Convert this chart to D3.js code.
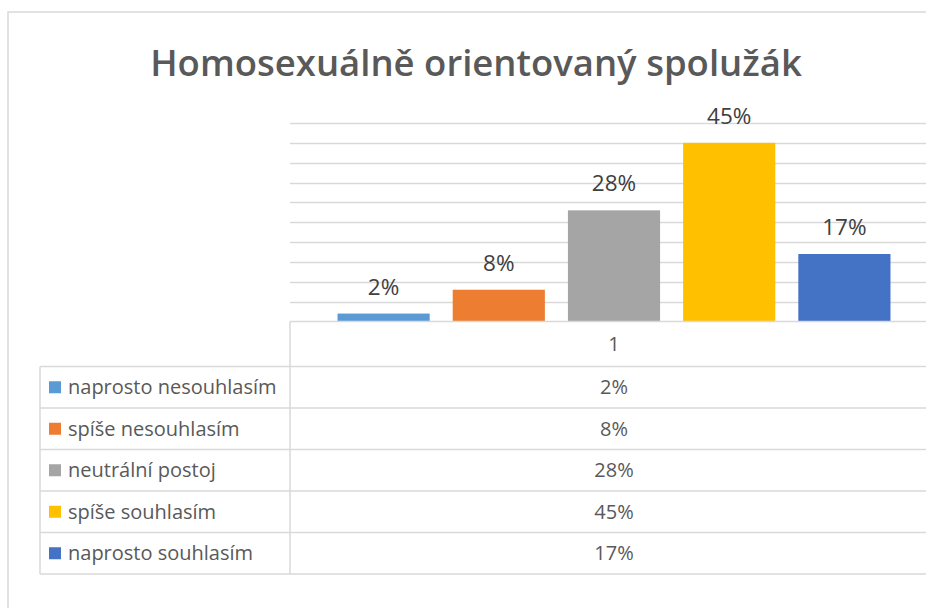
<!DOCTYPE html>
<html>
<head>
<meta charset="utf-8">
<script src="https://cdn.jsdelivr.net/npm/d3@7"></script>
<style>
  html, body { margin: 0; padding: 0; background: #fff; }
  svg text { font-family: "Open Sans", "Noto Sans", sans-serif; }
</style>
</head>
<body>
<div class="chart"></div>
<script>
  var TITLE = 'Homosexuálně orientovaný spolužák';
  var CATEGORIES = ['1'];
  var SERIES = ['naprosto nesouhlasím', 'spíše nesouhlasím', 'neutrální postoj', 'spíše souhlasím', 'naprosto souhlasím'];
  var VALUES = [0.02, 0.08, 0.28, 0.45, 0.17];
  var COLORS = ['#5B9BD5', '#ED7D31', '#A5A5A5', '#FFC000', '#4472C4'];
  var Y_TICKS = [0, 0.05, 0.1, 0.15, 0.2, 0.25, 0.3, 0.35, 0.4, 0.45, 0.5];

  var W = 926, H = 608;
  var plot = {left: 290, right: 938, top: 123, bottom: 321.5};
  var table = {left: 40, header: 366.5, bottom: 574};
  var GRID = '#D9D9D9';

  var pct = d3.format('.0%');

  var svg = d3.select('.chart').append('svg')
    .attr('width', W)
    .attr('height', H);

  // outer chart frame
  svg.append('rect')
    .attr('x', 8).attr('y', 12)
    .attr('width', 960).attr('height', 640)
    .attr('fill', '#fff')
    .attr('stroke', GRID)
    .attr('stroke-width', 1.5);

  svg.append('text')
    .attr('x', 476)
    .attr('y', 76)
    .attr('text-anchor', 'middle')
    .style('font-size', '36.5px')
    .style('font-weight', 600)
    .style('fill', '#595959')
    .text(TITLE);

  var x0 = d3.scaleBand().domain(CATEGORIES).range([plot.left, plot.right]);
  var x1 = d3.scaleBand().domain(SERIES)
    .range([x0('1'), x0('1') + x0.bandwidth()])
    .paddingInner(0.2)
    .paddingOuter(0.4125);
  var y = d3.scaleLinear().domain([0, 0.5]).range([plot.bottom, plot.top]);
  var color = d3.scaleOrdinal().domain(SERIES).range(COLORS);

  // gridlines
  svg.append('g')
    .selectAll('line')
    .data(Y_TICKS.slice(1))
    .enter().append('line')
    .attr('x1', plot.left).attr('x2', plot.right)
    .attr('y1', function(d) { return Math.round(y(d)) + 0.5; })
    .attr('y2', function(d) { return Math.round(y(d)) + 0.5; })
    .attr('stroke', GRID)
    .attr('stroke-width', 1.3);

  // bars
  var data = SERIES.map(function(s, i) { return {name: s, value: VALUES[i]}; });

  svg.append('g')
    .selectAll('rect')
    .data(data)
    .enter().append('rect')
    .attr('x', function(d) { return x1(d.name); })
    .attr('y', function(d) { return y(d.value); })
    .attr('width', x1.bandwidth())
    .attr('height', function(d) { return y(0) - y(d.value); })
    .attr('fill', function(d) { return color(d.name); });

  svg.append('g')
    .selectAll('text')
    .data(data)
    .enter().append('text')
    .attr('x', function(d) { return x1(d.name) + x1.bandwidth() / 2; })
    .attr('y', function(d) { return y(d.value) - 19; })
    .attr('text-anchor', 'middle')
    .style('font-size', '22.5px')
    .style('fill', '#404040')
    .text(function(d) { return pct(d.value); });

  // data table
  var rows = d3.scaleBand().domain(SERIES).range([table.header, table.bottom]);
  var tbl = svg.append('g').attr('stroke', GRID).attr('stroke-width', 1.5);

  tbl.append('line')
    .attr('x1', plot.left).attr('x2', plot.right)
    .attr('y1', y(0)).attr('y2', y(0));
  tbl.append('line')
    .attr('x1', plot.left).attr('x2', plot.left)
    .attr('y1', y(0)).attr('y2', table.bottom);
  tbl.append('line')
    .attr('x1', table.left).attr('x2', table.left)
    .attr('y1', table.header).attr('y2', table.bottom);
  tbl.selectAll('.row-line')
    .data(SERIES.concat(['end']))
    .enter().append('line')
    .attr('class', 'row-line')
    .attr('x1', table.left).attr('x2', plot.right)
    .attr('y1', function(d) { return d === 'end' ? table.bottom : rows(d); })
    .attr('y2', function(d) { return d === 'end' ? table.bottom : rows(d); });

  var cx = x0('1') + x0.bandwidth() / 2;

  svg.append('text')
    .attr('x', cx)
    .attr('y', (y(0) + table.header) / 2)
    .attr('dy', '0.35em')
    .attr('text-anchor', 'middle')
    .style('font-size', '20px')
    .style('fill', '#595959')
    .text(CATEGORIES[0]);

  var row = svg.append('g')
    .selectAll('g')
    .data(data)
    .enter().append('g')
    .attr('transform', function(d) { return 'translate(0,' + (rows(d.name) + rows.bandwidth() / 2) + ')'; });

  row.append('rect')
    .attr('x', 49).attr('y', -6)
    .attr('width', 12).attr('height', 12)
    .attr('fill', function(d) { return color(d.name); });

  row.append('text')
    .attr('x', 68)
    .attr('dy', '0.35em')
    .style('font-size', '20px')
    .style('fill', '#595959')
    .text(function(d) { return d.name; });

  row.append('text')
    .attr('x', cx)
    .attr('dy', '0.35em')
    .attr('text-anchor', 'middle')
    .style('font-size', '20px')
    .style('fill', '#595959')
    .text(function(d) { return pct(d.value); });
</script>
</body>
</html>
